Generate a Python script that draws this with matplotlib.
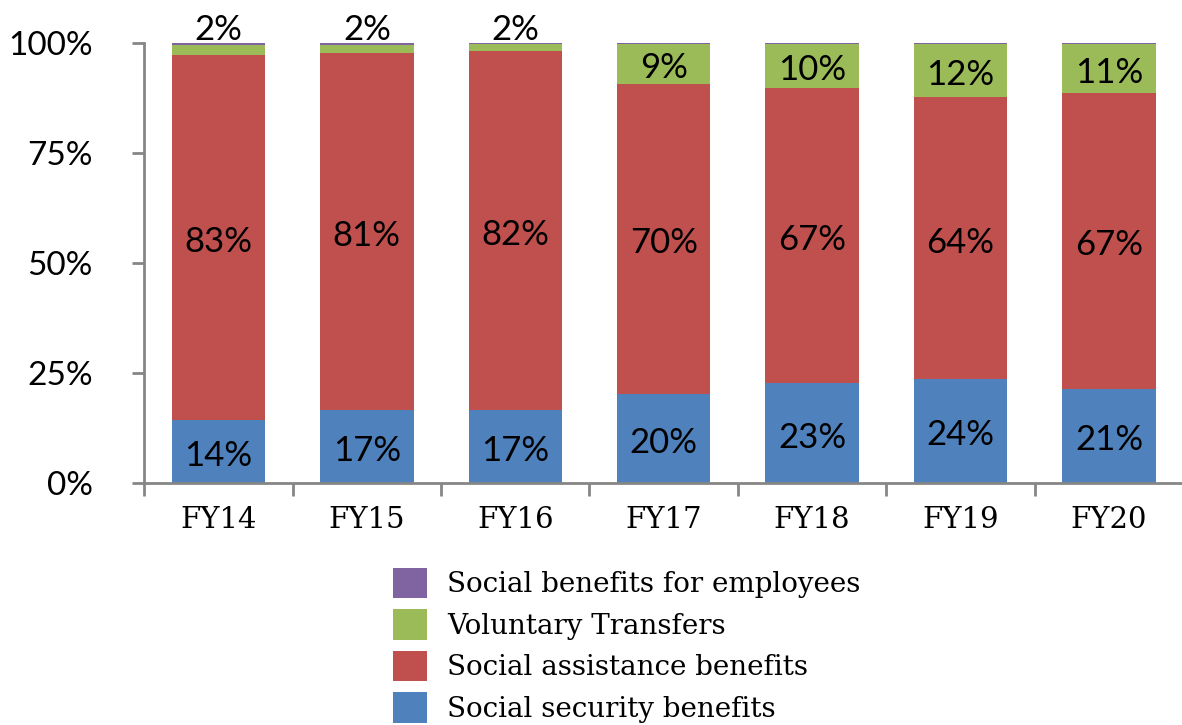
import numpy as np
import matplotlib.pyplot as plt
from matplotlib.ticker import FixedLocator, PercentFormatter

years = ["FY14", "FY15", "FY16", "FY17", "FY18", "FY19", "FY20"]
# shares in percent
social_security = [14.3, 16.6, 16.6, 20.2, 22.6, 23.6, 21.4]
social_assistance = [83.0, 81.1, 81.6, 70.4, 67.2, 64.0, 67.2]
voluntary = [2.2, 1.8, 1.6, 9.2, 10.0, 12.2, 11.2]
employees = [0.5, 0.5, 0.2, 0.2, 0.2, 0.2, 0.2]

series = [
    ("Social security benefits", social_security, "#4F81BD"),
    ("Social assistance benefits", social_assistance, "#C0504D"),
    ("Voluntary Transfers", voluntary, "#9BBB59"),
    ("Social benefits for employees", employees, "#8064A2"),
]

sans = "Lato"
serif = "DejaVu Serif"

fig = plt.figure(figsize=(11.82, 7.25), dpi=100)
ax = fig.add_axes([0.122, 0.334, 0.879, 0.607])

x = np.arange(len(years))
bottom = np.zeros(len(years))
handles = []
for name, vals, color in series:
    vals = np.array(vals)
    h = ax.bar(x, vals, 0.63, bottom=bottom, color=color, label=name)
    handles.append(h)
    if name != "Social benefits for employees":
        for i, v in enumerate(vals):
            if name == "Voluntary Transfers" and v < 5:
                # small segments: label put above the bar
                ypos = 102.8
            else:
                ypos = bottom[i] + v / 2 - 1
            ax.text(x[i], ypos, "%d%%" % round(v), ha="center", va="center",
                    fontsize=25, family=sans, color="black")
    bottom += vals

ax.set_xlim(-0.5, len(years) - 0.5)
ax.set_ylim(0, 100)
ax.yaxis.set_major_locator(FixedLocator([0, 25, 50, 75, 100]))
ax.yaxis.set_major_formatter(PercentFormatter(decimals=0))
ax.set_xticks(x)
ax.set_xticklabels(years, family=serif, fontsize=21)
ax.xaxis.set_minor_locator(FixedLocator(np.arange(-0.5, len(years), 1.0)))
ax.tick_params(axis="x", which="major", length=0, pad=17)
ax.tick_params(axis="x", which="minor", length=9, width=2, color="#868686")
ax.tick_params(axis="y", length=9, width=2, color="#868686", pad=28)
for lab in ax.get_yticklabels():
    lab.set_family(sans)
    lab.set_fontsize(24)

for s in ["top", "right"]:
    ax.spines[s].set_visible(False)
for s in ["left", "bottom"]:
    ax.spines[s].set_color("#868686")
    ax.spines[s].set_linewidth(2)
ax.spines["bottom"].set_zorder(5)

leg = fig.legend(handles[::-1], [s[0] for s in series][::-1],
                 loc="upper left", bbox_to_anchor=(0.321, 0.236),
                 frameon=False, prop={"family": serif, "size": 20},
                 handlelength=1.2, handleheight=1.3, handletextpad=0.75,
                 labelspacing=0.4, borderpad=0)

fig.savefig("out.png", dpi=100)
